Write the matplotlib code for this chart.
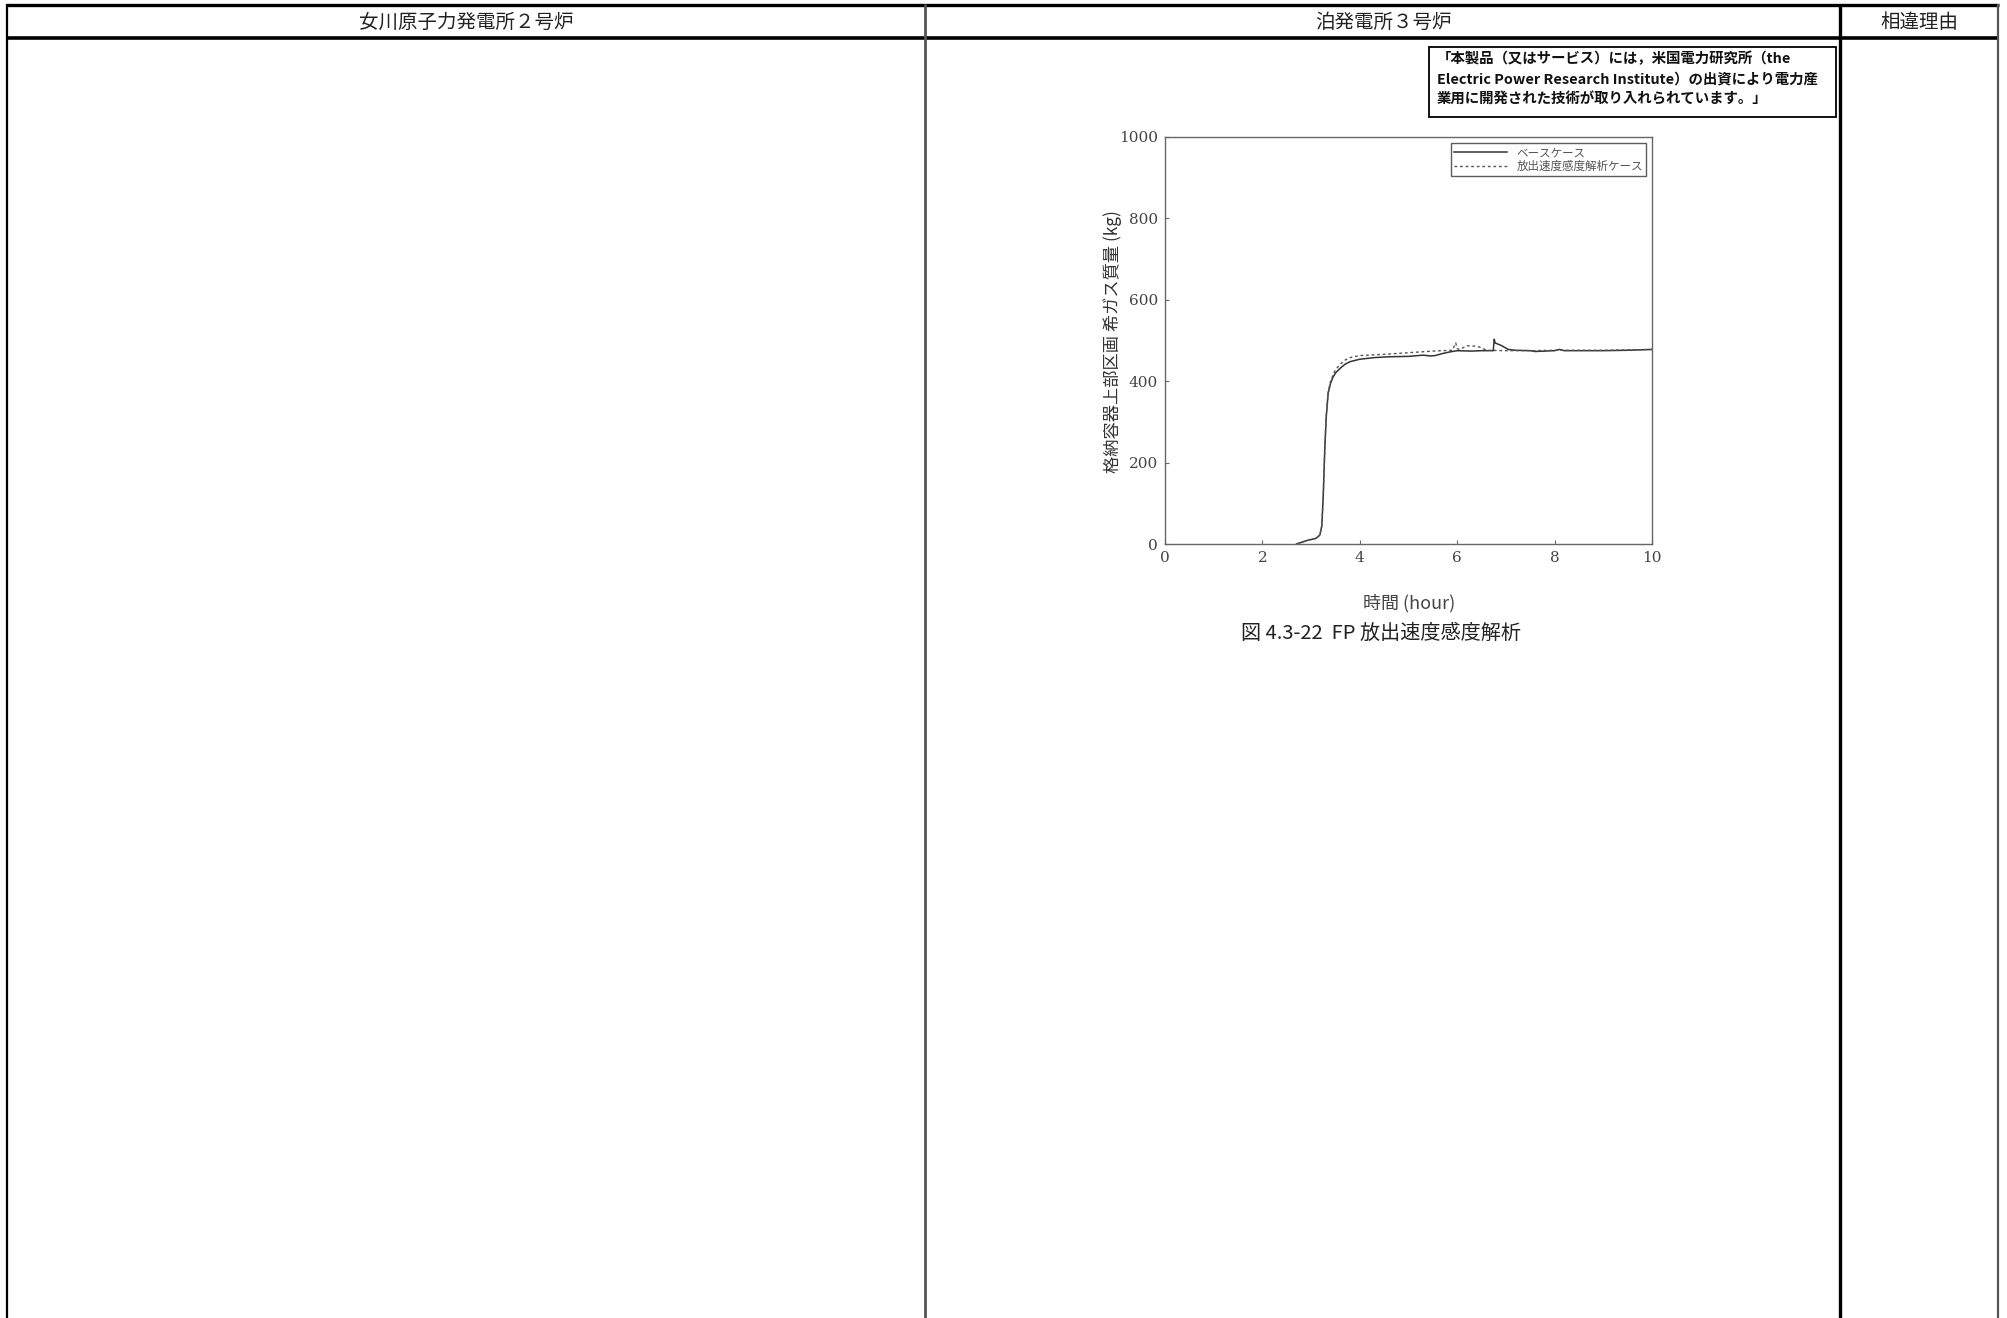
import matplotlib
matplotlib.use("Agg")
import matplotlib.pyplot as plt
from matplotlib.lines import Line2D
from matplotlib.patches import Rectangle

plt.rcParams['font.family'] = ['Noto Sans CJK JP', 'DejaVu Sans']

W, H = 2008, 1318

# column headers of the comparison table
col_headers = ["女川原子力発電所２号炉", "泊発電所３号炉", "相違理由"]

note_lines = [
    "「本製品（又はサービス）には，米国電力研究所（the",
    "Electric Power Research Institute）の出資により電力産",
    "業用に開発された技術が取り入れられています。」",
]

series_labels = ["ベースケース", "放出速度感度解析ケース"]

# base case: time (hour) vs noble gas mass (kg)
base_t = [2.7, 2.9, 3.1, 3.18, 3.22, 3.25, 3.28, 3.31, 3.35, 3.4, 3.45,
          3.5, 3.6, 3.7, 3.8, 4.0, 4.3, 4.6, 5.0, 5.3, 5.45, 5.55, 5.7, 5.85,
          6.0, 6.3, 6.5, 6.74, 6.76, 6.78, 6.9, 7.05, 7.2, 7.5, 7.6, 8.0,
          8.1, 8.2, 8.7, 9.0, 9.5, 10.0]
base_m = [0, 8, 14, 22, 45, 120, 230, 310, 370, 395, 410,
          420, 432, 442, 448, 454, 458, 460, 461, 464, 462, 463, 468, 472,
          475, 474, 475, 475, 503, 494, 488, 478, 476, 475, 473, 475,
          478, 475, 475, 475, 476, 478]

# release-rate sensitivity case
sens_t = [2.7, 2.9, 3.1, 3.18, 3.22, 3.25, 3.28, 3.31, 3.35, 3.4, 3.45,
          3.5, 3.6, 3.7, 3.8, 4.0, 4.5, 5.0, 5.5, 5.9, 5.97, 6.0, 6.05, 6.2,
          6.4, 6.5, 6.6, 7.0, 7.5, 8.0, 9.0, 10.0]
sens_m = [0, 8, 14, 22, 45, 120, 230, 315, 375, 400, 415,
          428, 442, 452, 458, 463, 466, 470, 474, 476, 494, 480, 478, 487,
          486, 482, 476, 475, 475, 476, 476, 478]

x_ticks = [0, 2, 4, 6, 8, 10]
y_ticks = [0, 200, 400, 600, 800, 1000]

x_label = "時間 (hour)"
y_label = "格納容器上部区画 希ガス質量 (kg)"
caption = "図 4.3-22  FP 放出速度感度解析"

fig = plt.figure(figsize=(W / 100, H / 100), dpi=100)


def fx(px):
    return px / W


def fy(py):
    return 1 - py / H


def hline(y, x0, x1, lw, color="black"):
    fig.add_artist(Line2D([fx(x0), fx(x1)], [fy(y), fy(y)], lw=lw, color=color,
                          transform=fig.transFigure, solid_capstyle="butt"))


def vline(x, y0, y1, lw, color="black"):
    fig.add_artist(Line2D([fx(x), fx(x)], [fy(y0), fy(y1)], lw=lw, color=color,
                          transform=fig.transFigure, solid_capstyle="butt"))


# table frame
hline(5, 6, 1999, 2.4)
hline(38, 6, 1999, 2.6)
vline(7, 4, H, 1.6)
vline(925, 4, H, 2.0, "#555555")
vline(1840, 4, H, 2.4)
vline(1998, 4, H, 1.6, "#555555")

header_x = [466, 1383, 1919]
for hx, txt in zip(header_x, col_headers):
    fig.text(fx(hx), fy(22), txt, ha="center", va="center", fontsize=14,
             color="#222222")

# copyright note box
fig.add_artist(Rectangle((fx(1429), fy(117)), fx(1836) - fx(1429), fy(47) - fy(117),
                         transform=fig.transFigure, fill=False, lw=1.3,
                         edgecolor="black"))
for i, line in enumerate(note_lines):
    fig.text(fx(1437), fy(59 + i * 20.5), line, ha="left", va="center",
             fontsize=10.4, fontweight="bold", color="#111111",
             family=['Noto Sans CJK JP', 'DejaVu Serif'])

# chart axes
ax_l, ax_r, ax_t, ax_b = 1165, 1652, 137, 544
ax = fig.add_axes([fx(ax_l), fy(ax_b), fx(ax_r) - fx(ax_l), fy(ax_t) - fy(ax_b)])
ax.plot(base_t, base_m, color="#333333", lw=1.1, ls="-", label=series_labels[0])
ax.plot(sens_t, sens_m, color="#555555", lw=1.0, ls=(0, (2.0, 2.0)),
        label=series_labels[1])
ax.set_xlim(0, 10)
ax.set_ylim(0, 1000)
ax.set_xticks(x_ticks)
ax.set_yticks(y_ticks)
for s in ax.spines.values():
    s.set_color("#666666")
    s.set_linewidth(1.0)
ax.tick_params(direction="in", length=3, width=0.8, color="#666666",
               labelsize=11, labelcolor="#444444", pad=5)
for lab in ax.get_xticklabels() + ax.get_yticklabels():
    lab.set_family("DejaVu Serif")

leg = ax.legend(loc="upper right", fontsize=8.3, frameon=True, fancybox=False,
                handlelength=4.6, handletextpad=0.8, borderpad=0.25,
                labelspacing=0.05, borderaxespad=0.55)
leg.get_frame().set_edgecolor("#333333")
leg.get_frame().set_linewidth(1.0)
for t in leg.get_texts():
    t.set_color("#555555")

fig.text(fx(1113), fy(342), y_label, rotation=90, ha="center", va="center",
         fontsize=12.4, color="#333333",
         family=['Noto Sans CJK JP', 'DejaVu Serif'])
fig.text(fx(1409), fy(603), x_label, ha="center", va="center", fontsize=13,
         color="#444444", family=['Noto Sans CJK JP', 'DejaVu Serif'])
fig.text(fx(1381), fy(633), caption, ha="center", va="center", fontsize=14.5,
         color="#222222")

fig.savefig("out.png", dpi=100, facecolor="white")
